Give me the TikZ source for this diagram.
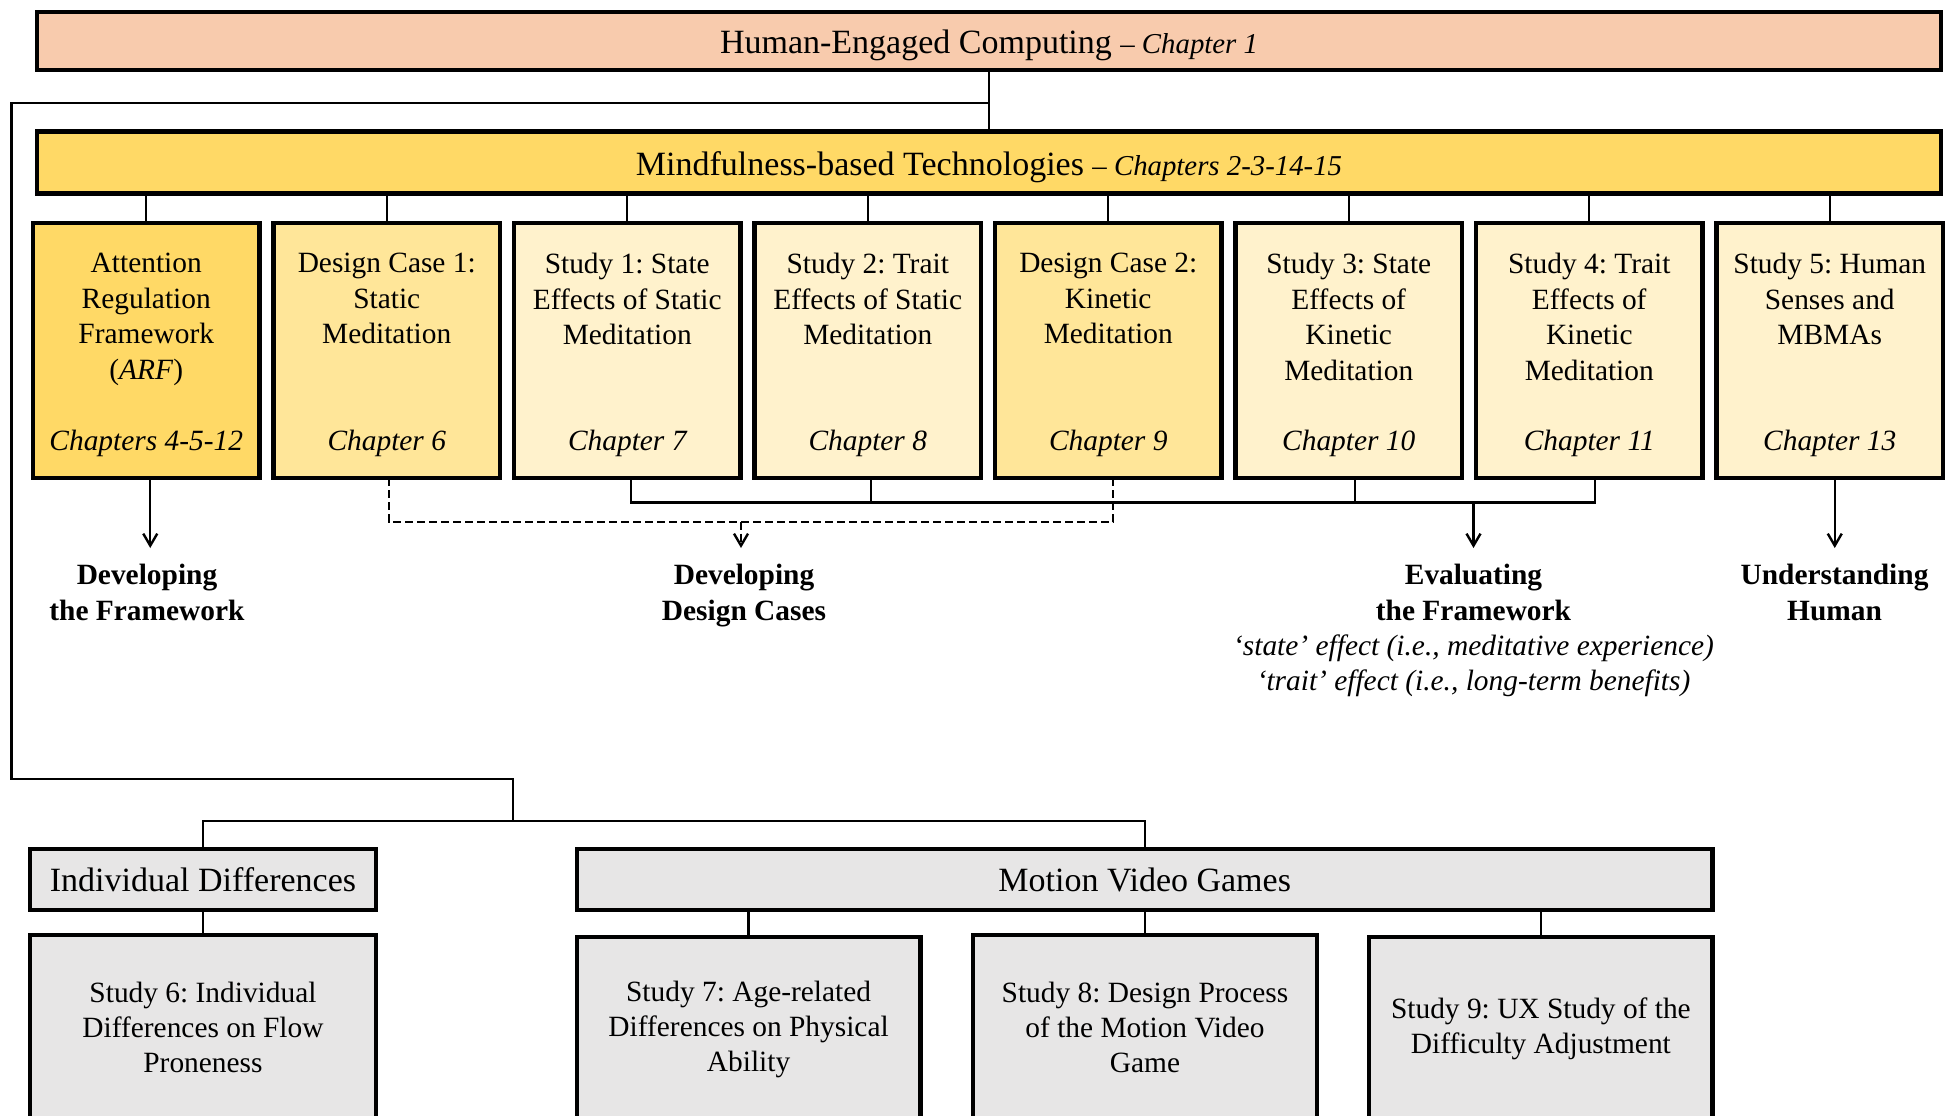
\documentclass[tikz,border=0pt]{standalone}
\usepackage{fontspec}
\setmainfont{Liberation Serif}
\usetikzlibrary{arrows.meta,calc}
\frenchspacing
\definecolor{peach}{HTML}{F8CBAD}
\definecolor{goldy}{HTML}{FFD966}
\definecolor{ylight}{HTML}{FFE699}
\definecolor{ypale}{HTML}{FFF2CC}
\definecolor{grayb}{HTML}{E7E6E6}
\newcommand\fsbig{\fontsize{17pt}{20pt}\selectfont}
\newcommand\fsmid{\fontsize{14.4pt}{17pt}\selectfont}
\newcommand\fsbx{\fontsize{14.7pt}{17.75pt}\selectfont}
\tikzset{
  frame/.style={draw=black, line width=2.2pt, inner sep=0pt, outer sep=0pt},
  bx/.style={frame, minimum width=113.25pt, minimum height=127.5pt},
  mt/.style={anchor=north, inner sep=0pt, align=center, font=\fsbx},
  ch/.style={anchor=base, inner sep=0pt, font=\fsbx\itshape},
  lbl/.style={anchor=north, inner sep=0pt, align=center, font=\fontsize{14.7pt}{17.6pt}\selectfont\bfseries},
  conn/.style={line width=1.2pt},
  arr/.style={conn, -{Straight Barb[length=6pt,width=7pt]}},
  dsh/.style={conn, dash pattern=on 4pt off 2pt},
  lowbx/.style={frame, fill=grayb, minimum height=92pt, align=center, font=\fontsize{14.7pt}{17.5pt}\selectfont},
}
\begin{document}
\begin{tikzpicture}[x=0.5pt,y=-0.5pt]
\useasboundingbox (0,0) rectangle (1953,1115);
\clip (0,0) rectangle (1953,1115);

% header boxes
\node[frame, fill=peach, minimum width=951.8pt, minimum height=29pt, text height=12pt, text depth=0pt] (hec) at (989,41)
  {\fsbig Human-Engaged Computing {\fsmid\itshape – Chapter 1}};
\node[frame, fill=goldy, minimum width=951.8pt, minimum height=31pt, text height=12.9pt, text depth=0pt] (mbt) at (989,162.5)
  {\fsbig Mindfulness-based Technologies {\fsmid\itshape – Chapters 2-3-14-15}};

% eight boxes
\node[bx, fill=goldy]  (b1) at (146.25,350.5) {};
\node[bx, fill=ylight] (b2) at (386.75,350.5) {};
\node[bx, fill=ypale]  (b3) at (627.25,350.5) {};
\node[bx, fill=ypale]  (b4) at (867.75,350.5) {};
\node[bx, fill=ylight] (b5) at (1108.25,350.5) {};
\node[bx, fill=ypale]  (b6) at (1348.75,350.5) {};
\node[bx, fill=ypale]  (b7) at (1589.25,350.5) {};
\node[bx, fill=ypale]  (b8) at (1829.75,350.5) {};

\node[mt] (t1) at ([yshift=-15pt]b1.north) {Attention\\Regulation\\Framework\\(\textit{ARF})};
\node[mt] (t2) at ([yshift=-15pt]b2.north) {Design Case 1:\\Static\\Meditation};
\node[mt] (t3) at ([yshift=-15pt]b3.north) {Study 1: State\\Effects of Static\\Meditation};
\node[mt] (t4) at ([yshift=-15pt]b4.north) {Study 2: Trait\\Effects of Static\\Meditation};
\node[mt] (t5) at ([yshift=-15pt]b5.north) {Design Case 2:\\Kinetic\\Meditation};
\node[mt] (t6) at ([yshift=-15pt]b6.north) {Study 3: State\\Effects of\\Kinetic\\Meditation};
\node[mt] (t7) at ([yshift=-15pt]b7.north) {Study 4: Trait\\Effects of\\Kinetic\\Meditation};
\node[mt] (t8) at ([yshift=-15pt]b8.north) {Study 5: Human\\Senses and\\MBMAs};

\node[ch] (c1) at ([yshift=14pt]b1.south) {Chapters 4-5-12};
\node[ch] (c2) at ([yshift=14pt]b2.south) {Chapter 6};
\node[ch] (c3) at ([yshift=14pt]b3.south) {Chapter 7};
\node[ch] (c4) at ([yshift=14pt]b4.south) {Chapter 8};
\node[ch] (c5) at ([yshift=14pt]b5.south) {Chapter 9};
\node[ch] (c6) at ([yshift=14pt]b6.south) {Chapter 10};
\node[ch] (c7) at ([yshift=14pt]b7.south) {Chapter 11};
\node[ch] (c8) at ([yshift=14pt]b8.south) {Chapter 13};

% connectors top
\draw[conn] (hec.south) -- (mbt.north);
\foreach \i in {1,...,8} \draw[conn] (mbt.south -| b\i.north) -- (b\i.north);

% labels below
\node[lbl] (l1) at (147,564) {Developing\\the Framework};
\node[lbl] (l2) at (744,564) {Developing\\Design Cases};
\node[lbl] (l3) at (1473.5,564) {Evaluating\\the Framework\\{\mdseries\itshape ‘state’ effect (i.e., meditative experience)}\\{\mdseries\itshape ‘trait’ effect (i.e., long-term benefits)}};
\node[lbl] (l4) at (1834.5,564) {Understanding\\Human};

\coordinate (sy) at (0,502.3);
\coordinate (dy) at (0,521.7);

\draw[arr, shorten >=8pt] ([xshift=2pt]b1.south) -- ([xshift=2pt]b1.south |- l1.north);
\draw[dsh] ([xshift=1pt]b2.south) |- ([xshift=2.5pt]b5.south |- dy) -- ([xshift=2.5pt]b5.south);
\draw[arr, dash pattern=on 4pt off 2pt, shorten >=8pt] ([xshift=-1.5pt]l2.north |- dy) -- ([xshift=-1.5pt]l2.north);
\draw[conn] ([xshift=2pt]b3.south) |- ([xshift=3pt]b7.south |- sy) -- ([xshift=3pt]b7.south);
\draw[conn] ([xshift=1.5pt]b4.south) -- ([xshift=1.5pt]b4.south |- sy);
\draw[conn] ([xshift=3pt]b6.south) -- ([xshift=3pt]b6.south |- sy);
\draw[arr, shorten >=8pt] (l3.north |- sy) -- (l3.north);
\draw[arr, shorten >=8pt] ([xshift=2.5pt]b8.south) -- ([xshift=2.5pt]b8.south |- l4.north);

% lower part
\node[frame, fill=grayb, minimum width=173pt, minimum height=30.5pt] (idf) at (203,879.5) {\fsbig Individual Differences};
\node[frame, fill=grayb, minimum width=567.75pt, minimum height=30.5pt] (mvg) at (1144.7,879.5) {\fsbig Motion Video Games};

\node[lowbx, minimum width=173pt] (s6) at (203,1027) {Study 6: Individual\\Differences on Flow\\Proneness};
\node[lowbx, minimum width=171.9pt] (s7) at (748.6,1029) {Study 7: Age-related\\Differences on Physical\\Ability};
\node[lowbx, minimum width=171.8pt] (s8) at (1145,1027) {Study 8: Design Process\\of the Motion Video\\Game};
\node[lowbx, minimum width=171.7pt] (s9) at (1540.9,1029) {Study 9: UX Study of the\\Difficulty Adjustment};

\coordinate (ja) at (hec.south |- 0,103);
\coordinate (jl) at (11.5,103);
\coordinate (jd) at (11.5,779);
\coordinate (je) at (513,779);
\coordinate (jb) at (513,821);
\draw[conn] (ja) -- (jl) -- (jd) -- (je) -- (jb);
\draw[conn] (idf.north) |- (jb) -| (mvg.north);
\draw[conn] (idf.south) -- (s6.north);
\draw[conn] (mvg.south -| s7.north) -- (s7.north);
\draw[conn] (mvg.south -| s8.north) -- (s8.north);
\draw[conn] (mvg.south -| s9.north) -- (s9.north);
\end{tikzpicture}
\end{document}
